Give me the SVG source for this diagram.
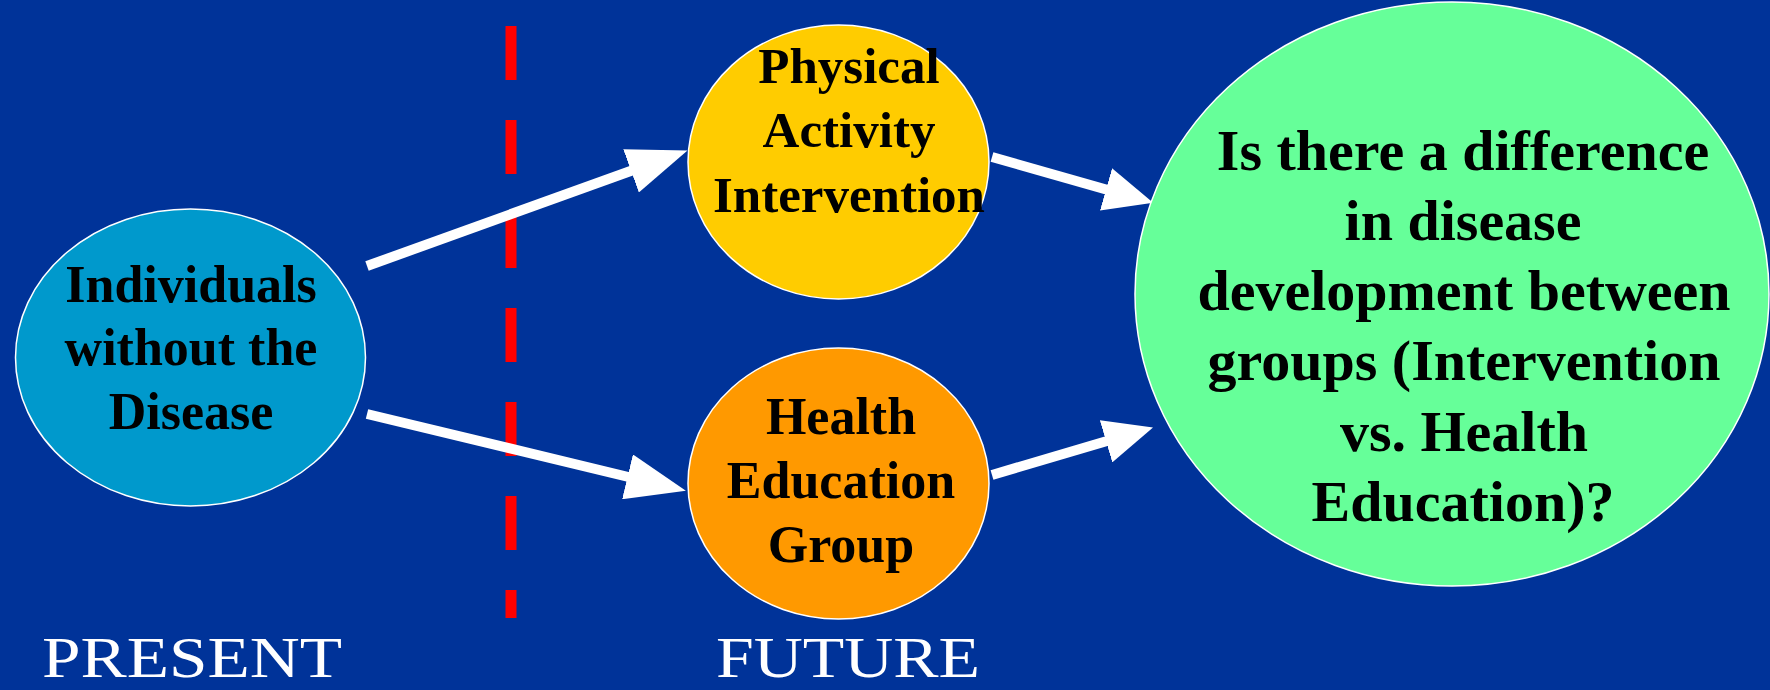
<svg xmlns="http://www.w3.org/2000/svg" width="1770" height="690" viewBox="0 0 1770 690">
  <style>
    .node { stroke: #ffffff; stroke-width: 1.5; }
    .label { font-family: "Liberation Serif", "Times New Roman", serif; font-weight: bold; fill: #000000; text-anchor: middle; }
    .era { font-family: "Liberation Serif", "Times New Roman", serif; font-size: 56px; fill: #ffffff; }
    .link { stroke: #ffffff; stroke-width: 10; fill: none; }
    .link.long { marker-end: url(#head-long); }
    .link.short { marker-end: url(#head); }
    .divider { stroke: #ff0000; stroke-width: 11; stroke-dasharray: 54 40; }
  </style>
  <defs>
    <marker id="head" markerUnits="userSpaceOnUse" markerWidth="49" markerHeight="44" viewBox="0 0 49 44" refX="1" refY="22" orient="auto">
      <path d="M0,0 L49,22 L0,44 Z" fill="#ffffff"/>
    </marker>
    <marker id="head-long" markerUnits="userSpaceOnUse" markerWidth="60" markerHeight="46" viewBox="0 0 60 46" refX="1" refY="23" orient="auto">
      <path d="M0,0 L60,23 L0,46 Z" fill="#ffffff"/>
    </marker>
  </defs>

  <!-- background -->
  <rect x="0" y="0" width="1770" height="690" fill="#003399"/>

  <!-- present / future divider -->
  <line class="divider" x1="511" y1="26" x2="511" y2="618"/>

  <!-- connectors -->
  <g id="connectors">
    <line class="link long" x1="367" y1="266" x2="632" y2="170.5"/>
    <line class="link long" x1="367" y1="414" x2="628.5" y2="477"/>
    <line class="link short" x1="992" y1="157" x2="1107" y2="189.7"/>
    <line class="link short" x1="992" y1="475" x2="1107" y2="441"/>
  </g>

  <g id="individuals">
    <ellipse class="node" cx="190.5" cy="357.5" rx="175" ry="148.5" fill="#0099cc"/>
    <text class="label" font-size="52" x="191" y="302">Individuals</text>
    <text class="label" font-size="52" x="191" y="365">without the</text>
    <text class="label" font-size="52" x="191" y="429">Disease</text>
  </g>

  <g id="physical-activity">
    <ellipse class="node" cx="838.5" cy="162" rx="150.5" ry="137" fill="#ffcc00"/>
    <text class="label" font-size="51" x="849" y="83">Physical</text>
    <text class="label" font-size="51" x="849" y="147">Activity</text>
    <text class="label" font-size="51" x="849" y="212">Intervention</text>
  </g>

  <g id="health-education">
    <ellipse class="node" cx="838.5" cy="483.5" rx="150.5" ry="135.5" fill="#ff9900"/>
    <text class="label" font-size="52" x="841" y="434">Health</text>
    <text class="label" font-size="52" x="841" y="498">Education</text>
    <text class="label" font-size="52" x="841" y="562">Group</text>
  </g>

  <g id="question">
    <ellipse class="node" cx="1452" cy="294" rx="317" ry="292" fill="#66ff99"/>
    <text class="label" font-size="58" x="1463" y="170">Is there a difference</text>
    <text class="label" font-size="58" x="1463" y="240">in disease</text>
    <text class="label" font-size="58" x="1464" y="310">development between</text>
    <text class="label" font-size="58" x="1464" y="380">groups (Intervention</text>
    <text class="label" font-size="58" x="1464" y="451">vs. Health</text>
    <text class="label" font-size="58" x="1463" y="521">Education)?</text>
  </g>

  <g id="timeline-labels">
    <text class="era" x="42" y="677" textLength="300" lengthAdjust="spacingAndGlyphs">PRESENT</text>
    <text class="era" x="716" y="677" textLength="264" lengthAdjust="spacingAndGlyphs">FUTURE</text>
  </g>
</svg>
